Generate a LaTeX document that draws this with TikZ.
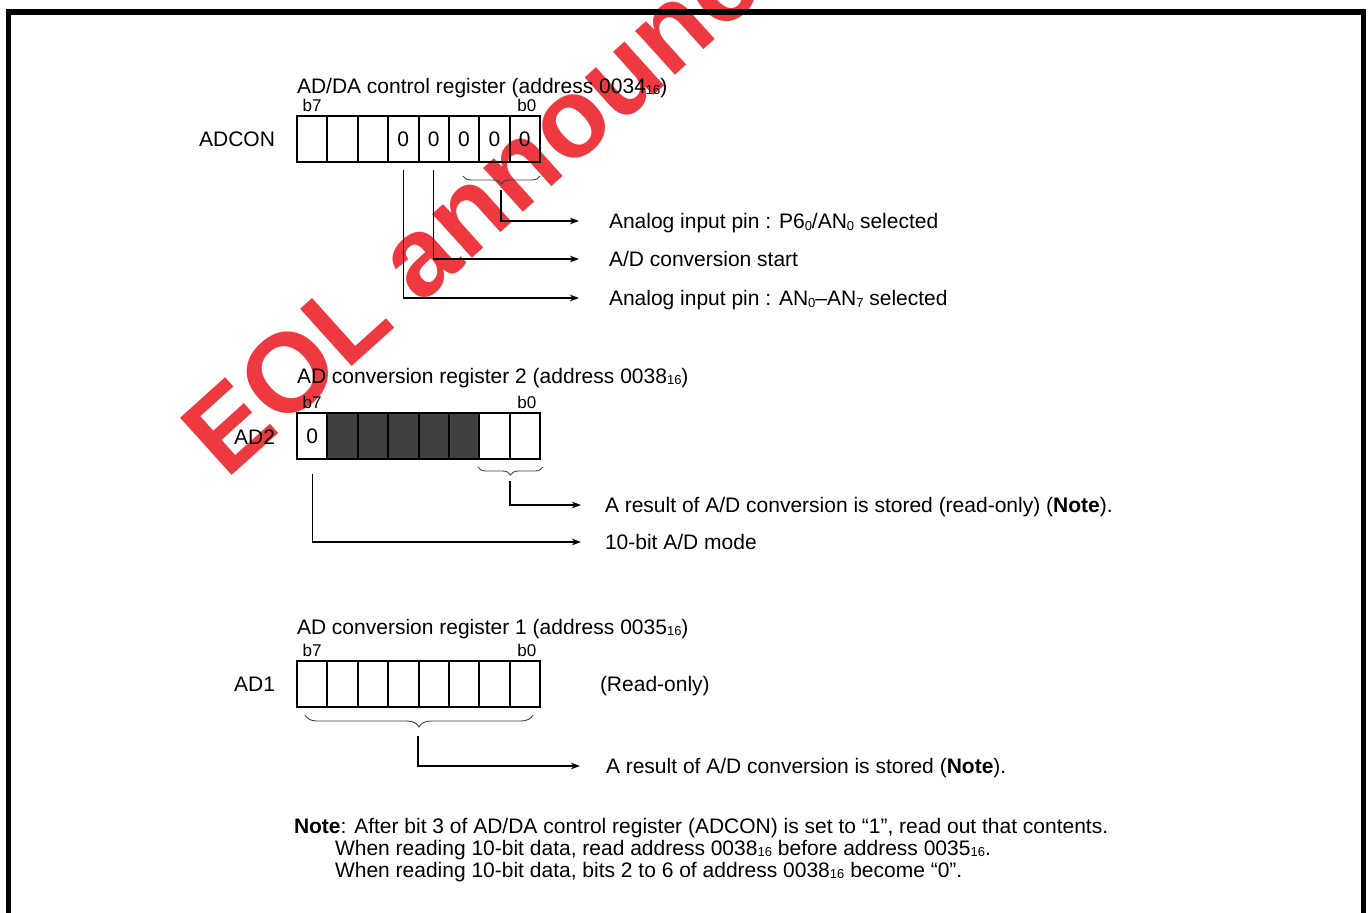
\documentclass[tikz,border=0pt]{standalone}
\usepackage{fontspec}
\setmainfont{Liberation Sans}
\usetikzlibrary{arrows.meta,decorations.pathreplacing,calc}
\definecolor{wmred}{RGB}{236,22,32}
\definecolor{cellgray}{RGB}{64,64,64}
\newcommand\lowix[1]{\raisebox{-1.5pt}{\fontsize{13}{13}\selectfont #1}}
\begin{document}
\begin{tikzpicture}[x=1pt,y=-1pt,
  every node/.style={inner sep=0pt, outer sep=0pt, font=\fontsize{21}{25}\selectfont},
  cell/.style={draw, line width=2pt, minimum width=30.375pt, minimum height=46pt, anchor=north west, text height=15pt, text depth=0pt},
  darkcell/.style={cell, fill=cellgray},
  bitlbl/.style={font=\fontsize{17}{18}\selectfont, anchor=base},
  reglbl/.style={anchor=east, text height=15pt, text depth=0pt},
  titlelbl/.style={anchor=base west},
  desc/.style={anchor=west, text height=15pt, text depth=0pt},
  conn/.style={line width=1.1pt, -{Stealth[length=9pt,width=6.5pt,inset=2.5pt]}},
  brc/.style={decorate, decoration={brace, amplitude=8pt}, line width=0.9pt, black!75},
  widebrc/.style={decorate, decoration={brace, amplitude=12pt}, line width=0.9pt, black!75},
  pageframe/.style={line width=5.5pt, line join=miter},
  wm/.style={font=\fontsize{112}{112}\selectfont\bfseries, text=wmred, opacity=0.85, rotate=42, anchor=base west}
]
\useasboundingbox (0,0) rectangle (1369,913);
\clip (0,0) rectangle (1369,913);

% watermark
\node[wm] (wmark) at (226,480) {EOL announced};

% page frame
\draw[pageframe] (8.5,1000) -- (8.5,12) -- (1363.5,12) -- (1363.5,1000);

% ---------------- ADCON ----------------
\node[titlelbl] (tA) at (297,93) {AD/DA control register (address 0034\lowix{16})};
\foreach \i/\v in {0/,1/,2/,3/0,4/0,5/0,6/0,7/0}{
  \pgfmathtruncatemacro\bit{7-\i}
  \node[cell] (adcon\bit) at (297+\i*30.375,116) {\v};
}
\node[bitlbl] (adb7) at ($(adcon7.north)+(0,-5)$) {b7};
\node[bitlbl] (adb0) at ($(adcon0.north)+(2,-5)$) {b0};
\node[reglbl] (lA) at (275,139) {ADCON};

\draw[brc] (540,176) -- (463,176);
\coordinate (brA) at (501,190);

\node[desc] (d1) at (609,221) {Analog input pin : P6\lowix{0}/AN\lowix{0} selected};
\node[desc] (d2) at (609,259) {A/D conversion start};
\node[desc] (d3) at (609,298) {Analog input pin : AN\lowix{0}\textendash AN\lowix{7} selected};

\draw[conn] (brA) |- ([xshift=-30pt]d1.west);
\draw[conn] (adcon3.south) ++(0,8) |- ([xshift=-30pt]d2.west);
\draw[conn] (adcon4.south) ++(0,8) |- ([xshift=-30pt]d3.west);

% ---------------- AD2 ----------------
\node[titlelbl] (tB) at (297,383) {AD conversion register 2 (address 0038\lowix{16})};
\foreach \i/\st/\v in {0/cell/0,1/darkcell/,2/darkcell/,3/darkcell/,4/darkcell/,5/darkcell/,6/cell/,7/cell/}{
  \pgfmathtruncatemacro\bit{7-\i}
  \node[\st] (adtwo\bit) at (297+\i*30.375,413) {\v};
}
\node[bitlbl] (a2b7) at ($(adtwo7.north)+(0,-5)$) {b7};
\node[bitlbl] (a2b0) at ($(adtwo0.north)+(2,-5)$) {b0};
\node[reglbl] (lB) at (275,437) {AD2};

\draw[brc] (543,467) -- (478,467);
\coordinate (brB) at (510,481);

\node[desc] (e1) at (605,505) {A result of A/D conversion is stored (read-only) (\textbf{Note}).};
\node[desc] (e2) at (605,542) {10-bit A/D mode};

\draw[conn] (brB) |- ([xshift=-24pt]e1.west);
\draw[conn] (adtwo7.south) ++(0,15) |- ([xshift=-24pt]e2.west);

% ---------------- AD1 ----------------
\node[titlelbl] (tC) at (297,634) {AD conversion register 1 (address 0035\lowix{16})};
\foreach \i in {0,...,7}{
  \pgfmathtruncatemacro\bit{7-\i}
  \node[cell] (adone\bit) at (297+\i*30.375,661) {};
}
\node[bitlbl] (a1b7) at ($(adone7.north)+(0,-5)$) {b7};
\node[bitlbl] (a1b0) at ($(adone0.north)+(2,-5)$) {b0};
\node[reglbl] (lC) at (275,684) {AD1};
\node[desc] (ro) at (600,684) {(Read-only)};

\draw[widebrc] (533,715) -- (305,715);
\coordinate (brC) at (418,736);

\node[desc] (f1) at (606,766) {A result of A/D conversion is stored (\textbf{Note}).};
\draw[conn] (brC) |- ([xshift=-26pt]f1.west);

% ---------------- Note ----------------
\node[anchor=base west] (n1) at (294,833) {\textbf{Note}: After bit 3 of AD/DA control register (ADCON) is set to “1”, read out that contents.};
\node[anchor=base west] (n2) at (335,855) {When reading 10-bit data, read address 0038\lowix{16} before address 0035\lowix{16}.};
\node[anchor=base west] (n3) at (335,877) {When reading 10-bit data, bits 2 to 6 of address 0038\lowix{16} become “0”.};
\end{tikzpicture}
\end{document}
